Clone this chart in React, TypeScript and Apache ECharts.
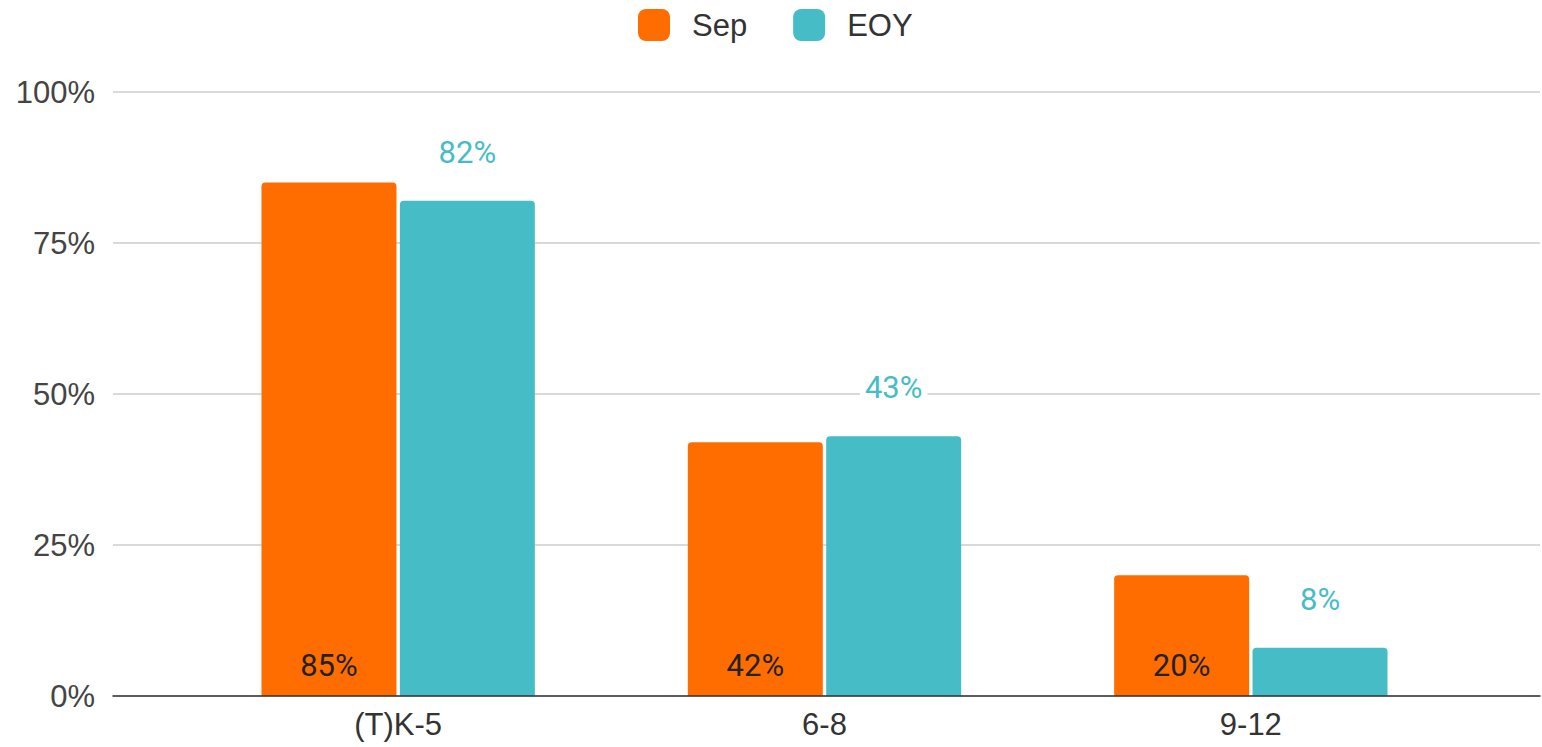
import React, { useEffect, useRef } from "react";
import * as echarts from "echarts";

const categories = ["(T)K-5", "6-8", "9-12"];
const sepValues = [85, 42, 20];
const eoyValues = [82, 43, 8];
const yTicks = [0, 25, 50, 75, 100];

const FONT = "'Liberation Sans', Arial, sans-serif";
const LABEL_FONT = "Roboto, 'Liberation Sans', sans-serif";
const ORANGE = "#FF6D01";
const TEAL = "#46BDC6";

export default function App() {
  const ref = useRef<HTMLDivElement>(null);
  useEffect(() => {
    if (!ref.current) return;
    const chart = echarts.init(ref.current, null, { renderer: "svg" });
    const option: any = {
      animation: false,
      backgroundColor: "#fff",
      textStyle: { fontFamily: FONT },
      legend: {
        top: 4,
        left: 633,
        itemWidth: 32,
        itemHeight: 32,
        itemGap: 46,
        icon: "roundRect",
        textStyle: { fontFamily: FONT, fontSize: 31, color: "#333", padding: [0, 0, 0, 17] },
        data: ["Sep", "EOY"],
      },
      grid: [
        { left: 113, right: 2, top: 92, bottom: 51 },
        { left: 185, right: 78, top: 92, bottom: 51 },
      ],
      xAxis: [
        {
          gridIndex: 0,
          type: "category",
          data: [""],
          axisLine: { show: true, lineStyle: { color: "#333", width: 1.5 } },
          axisTick: { show: false },
          axisLabel: { show: false },
          z: 5,
        },
        {
          gridIndex: 1,
          type: "category",
          data: categories,
          axisLine: { show: false },
          axisTick: { show: false },
          axisLabel: { fontFamily: FONT, fontSize: 31, color: "#333", margin: 13 },
        },
      ],
      yAxis: [
        {
          gridIndex: 0,
          type: "value",
          min: yTicks[0],
          max: yTicks[yTicks.length - 1],
          interval: 25,
          axisLine: { show: false },
          axisTick: { show: false },
          splitLine: { lineStyle: { color: "#ccc", width: 1.5 } },
          axisLabel: {
            fontFamily: FONT,
            fontSize: 31,
            color: "#444",
            margin: 18,
            formatter: (v: number) => v + "%",
          },
        },
        {
          gridIndex: 1,
          type: "value",
          min: 0,
          max: 100,
          show: false,
          splitLine: { show: false },
        },
      ],
      series: [
        {
          name: "Sep",
          type: "bar",
          xAxisIndex: 1,
          yAxisIndex: 1,
          data: sepValues,
          barWidth: 135,
          barGap: "2.5%",
          itemStyle: { color: ORANGE, borderRadius: [4, 4, 0, 0] },
          label: {
            show: true,
            position: "insideBottom",
            distance: 15,
            fontFamily: LABEL_FONT,
            fontSize: 31,
            color: "#222",
            formatter: (p: any) => p.value + "%",
          },
          z: 3,
        },
        {
          name: "EOY",
          type: "bar",
          xAxisIndex: 1,
          yAxisIndex: 1,
          data: eoyValues,
          barWidth: 135,
          itemStyle: { color: TEAL, borderRadius: [4, 4, 0, 0] },
          label: {
            show: true,
            position: "top",
            distance: 33,
            fontFamily: LABEL_FONT,
            fontSize: 31,
            color: TEAL,
            backgroundColor: "#fff",
            padding: [0, 5],
            formatter: (p: any) => p.value + "%",
          },
          z: 3,
        },
      ],
    };
    chart.setOption(option);
    return () => chart.dispose();
  }, []);
  return (
    <div
      ref={ref}
      style={{ position: "fixed", left: 0, top: 0, width: 1542, height: 747, background: "#fff" }}
    />
  );
}
